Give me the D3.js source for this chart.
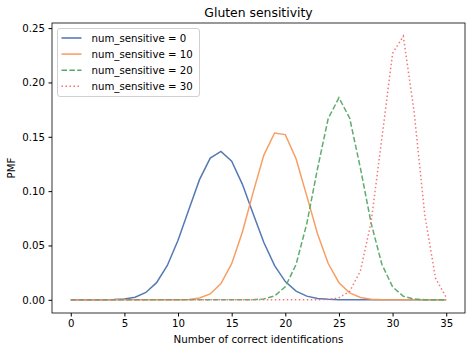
<!DOCTYPE html>
<html>
<head>
<meta charset="utf-8">
<script src="https://cdn.jsdelivr.net/npm/d3@7"></script>
<style>
  body { margin: 0; background: #fff; }
  text { font-family: "DejaVu Sans", sans-serif; fill: #000; }
</style>
</head>
<body>
<div id="chart"></div>
<script>
const counts = d3.range(0, 36);
const xTicks = [0, 5, 10, 15, 20, 25, 30, 35];
const yTicks = [0, 0.05, 0.10, 0.15, 0.20, 0.25];

// PMF of correct identifications, one array per num_sensitive value (k = 0..35)
const pmf0 = [0, 0, 0, 0.00003, 0.00018, 0.00073, 0.00245, 0.00677, 0.01579, 0.03157,
  0.05473, 0.08292, 0.11056, 0.13040, 0.13661, 0.12751, 0.10626, 0.07917, 0.05278, 0.03148,
  0.01679, 0.00800, 0.00339, 0.00128, 0.00043, 0.00012, 0.00003, 0, 0, 0,
  0, 0, 0, 0, 0, 0];
const pmf10 = [0, 0, 0, 0, 0, 0, 0, 0, 0, 0.00001,
  0.00007, 0.00039, 0.00162, 0.00543, 0.01498, 0.03322, 0.06237, 0.09881, 0.13312, 0.15345,
  0.15200, 0.12977, 0.09564, 0.06084, 0.03337, 0.01574, 0.00635, 0.00218, 0.00063, 0.00015,
  0.00003, 0, 0, 0, 0, 0];
const pmf20 = [0, 0, 0, 0, 0, 0, 0, 0, 0, 0,
  0, 0, 0, 0, 0, 0, 0.00003, 0.00016, 0.00085, 0.00356,
  0.01203, 0.03248, 0.06997, 0.12060, 0.16686, 0.18594, 0.16715, 0.12114, 0.07051, 0.03269,
  0.01191, 0.00333, 0.00069, 0.00010, 0.00001, 0];
const pmf30 = [0, 0, 0, 0, 0, 0, 0, 0, 0, 0,
  0, 0, 0, 0, 0, 0, 0, 0, 0, 0,
  0, 0, 0.00001, 0.00006, 0.00037, 0.00185, 0.00777, 0.02651, 0.07170, 0.14868,
  0.22678, 0.24257, 0.17343, 0.07813, 0.01996, 0.00220];

const series = [
  { label: "num_sensitive = 0", values: pmf0, color: "#4c72b0", dash: null },
  { label: "num_sensitive = 10", values: pmf10, color: "#f79a5b", dash: null },
  { label: "num_sensitive = 20", values: pmf20, color: "#55a868", dash: "5.5,2.4" },
  { label: "num_sensitive = 30", values: pmf30, color: "#f27272", dash: "1.5,2.5" }
];

const W = 472, H = 352;
const plot = { left: 52, right: 465, top: 23, bottom: 313 };

const svg = d3.select("#chart").append("svg")
  .attr("width", W).attr("height", H);

const ymax = d3.max(series, s => d3.max(s.values));
const pad = ymax * 0.05;

const x = d3.scaleLinear().domain([-1.75, 36.75]).range([plot.left, plot.right]);
const y = d3.scaleLinear().domain([-pad, ymax + pad]).range([plot.bottom, plot.top]);

// axes
svg.append("g")
  .attr("transform", `translate(0,${plot.bottom})`)
  .call(d3.axisBottom(x).tickValues(xTicks).tickSize(3.5).tickPadding(3.5).tickFormat(d3.format("d")))
  .call(g => g.select(".domain").remove())
  .call(g => g.selectAll("text").attr("font-size", 10.2).attr("font-family", "DejaVu Sans"));

svg.append("g")
  .attr("transform", `translate(${plot.left},0)`)
  .call(d3.axisLeft(y).tickValues(yTicks).tickSize(3.5).tickPadding(3.5).tickFormat(d3.format(".2f")))
  .call(g => g.select(".domain").remove())
  .call(g => g.selectAll("text").attr("font-size", 10.2).attr("font-family", "DejaVu Sans"));

// lines
const line = d3.line().x((d, i) => x(counts[i])).y(d => y(d));

svg.append("g").selectAll("path")
  .data(series)
  .join("path")
  .attr("d", d => line(d.values))
  .attr("fill", "none")
  .attr("stroke", d => d.color)
  .attr("stroke-width", 1.5)
  .attr("stroke-opacity", 0.95)
  .attr("stroke-dasharray", d => d.dash);

// frame
svg.append("rect")
  .attr("x", plot.left).attr("y", plot.top)
  .attr("width", plot.right - plot.left).attr("height", plot.bottom - plot.top)
  .attr("fill", "none").attr("stroke", "#000").attr("stroke-width", 0.8);

// legend
const legend = svg.append("g").attr("transform", "translate(57.5,28.5)");
legend.append("rect")
  .attr("width", 142).attr("height", 68).attr("rx", 2.5)
  .attr("fill", "#fff").attr("fill-opacity", 0.8)
  .attr("stroke", "#d0d0d0").attr("stroke-width", 1);

const item = legend.selectAll("g.item")
  .data(series)
  .join("g")
  .attr("class", "item")
  .attr("transform", (d, i) => `translate(0,${9.5 + i * 16.1})`);

item.append("line")
  .attr("x1", 4).attr("x2", 24)
  .attr("stroke", d => d.color).attr("stroke-width", 1.5)
  .attr("stroke-dasharray", d => d.dash);

item.append("text")
  .attr("x", 34).attr("y", 3.6)
  .attr("font-size", 10.2)
  .text(d => d.label);

// titles
svg.append("text")
  .attr("x", (plot.left + plot.right) / 2).attr("y", 17)
  .attr("text-anchor", "middle").attr("font-size", 12.4)
  .text("Gluten sensitivity");

svg.append("text")
  .attr("x", (plot.left + plot.right) / 2).attr("y", 343)
  .attr("text-anchor", "middle").attr("font-size", 10.3)
  .text("Number of correct identifications");

svg.append("text")
  .attr("transform", `translate(15,${(plot.top + plot.bottom) / 2}) rotate(-90)`)
  .attr("text-anchor", "middle").attr("font-size", 10.2)
  .text("PMF");
</script>
</body>
</html>
